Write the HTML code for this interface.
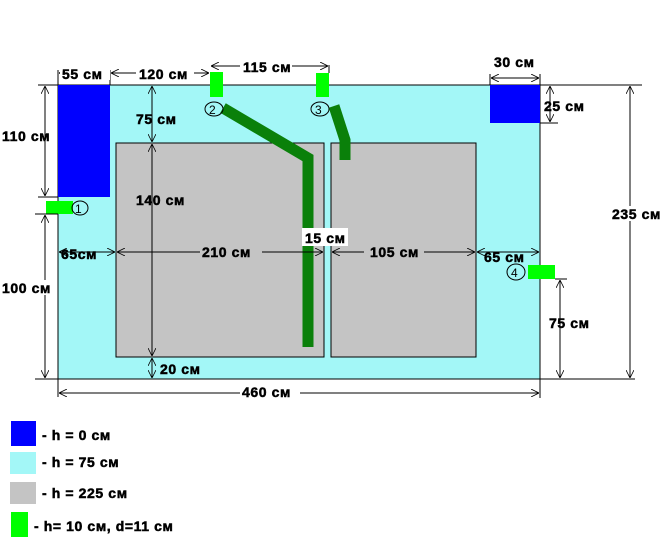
<!DOCTYPE html>
<html><head><meta charset="utf-8"><style>
html,body{margin:0;padding:0;background:#fff;width:672px;height:540px;overflow:hidden}
text{font-family:"Liberation Sans",Arial,sans-serif;font-weight:bold;font-size:14px;fill:#000;stroke:#000;stroke-width:0.5px;letter-spacing:0.6px}
</style></head><body>
<svg width="672" height="540" viewBox="0 0 672 540" xmlns="http://www.w3.org/2000/svg">
<defs>
<marker id="a" viewBox="0 0 10 10" refX="10" refY="5" markerWidth="8" markerHeight="8" orient="auto-start-reverse" markerUnits="userSpaceOnUse"><path d="M0,0 L10,5 L0,10" fill="none" stroke="#000" stroke-width="1"/></marker>
</defs>
<rect x="58" y="85" width="482" height="294" fill="#a3f7f7" stroke="#000" stroke-width="1"/>
<rect x="58" y="85" width="52" height="112" fill="#0000ff"/>
<rect x="490" y="85" width="50" height="38" fill="#0000ff"/>
<rect x="116" y="143" width="208" height="214" fill="#c4c4c4" stroke="#000"/>
<rect x="331" y="143" width="145" height="214" fill="#c4c4c4" stroke="#000"/>
<polyline points="223,108 308,158 308,347" fill="none" stroke="#0a800a" stroke-width="11"/>
<polyline points="334,106 345,140 345,160" fill="none" stroke="#0a800a" stroke-width="11"/>
<rect x="46" y="201" width="27" height="13" fill="#00ff00"/>
<rect x="210" y="72" width="13" height="25" fill="#00ff00"/>
<rect x="316" y="73" width="13" height="24" fill="#00ff00"/>
<rect x="528" y="265" width="27" height="14" fill="#00ff00"/>
<g fill="none" stroke="#000" stroke-width="1">
<ellipse cx="80" cy="208" rx="8" ry="7"/>
<ellipse cx="214" cy="109" rx="9" ry="7"/>
<ellipse cx="320" cy="109" rx="9" ry="7"/>
<ellipse cx="516" cy="272" rx="9" ry="8"/>
<line x1="38" y1="85" x2="58" y2="85"/>
<line x1="38" y1="197" x2="58" y2="197"/>
<line x1="35" y1="214" x2="58" y2="214"/>
<line x1="35" y1="379" x2="58" y2="379"/>
<line x1="58" y1="379" x2="58" y2="397"/>
<line x1="540" y1="379" x2="540" y2="398"/>
<line x1="540" y1="85" x2="642" y2="85"/>
<line x1="540" y1="379" x2="635" y2="379"/>
<line x1="540" y1="123" x2="558" y2="123"/>
<line x1="555" y1="279" x2="567" y2="279"/>
<line x1="540" y1="74" x2="540" y2="85"/>
<line x1="490" y1="74" x2="490" y2="85"/>
<line x1="329" y1="65" x2="329" y2="73"/>
<line x1="110" y1="70" x2="110" y2="85"/>
<line x1="58" y1="70" x2="58" y2="85"/>
</g>
<g stroke="#000" stroke-width="1" marker-start="url(#a)" marker-end="url(#a)">
<line x1="45" y1="86" x2="45" y2="196"/>
<line x1="45" y1="215" x2="45" y2="378"/>
<line x1="59" y1="393" x2="539" y2="393"/>
<line x1="59" y1="73" x2="109" y2="73"/>
<line x1="111" y1="73" x2="209" y2="73"/>
<line x1="211" y1="66" x2="328" y2="66"/>
<line x1="491" y1="78" x2="539" y2="78"/>
<line x1="550" y1="86" x2="550" y2="122"/>
<line x1="630" y1="86" x2="630" y2="378"/>
<line x1="560" y1="280" x2="560" y2="378"/>
<line x1="152" y1="86" x2="152" y2="142"/>
<line x1="152" y1="144" x2="152" y2="356"/>
<line x1="152" y1="358" x2="152" y2="378"/>
<line x1="59" y1="252" x2="115" y2="252"/>
<line x1="117" y1="252" x2="323" y2="252"/>
<line x1="332" y1="252" x2="475" y2="252"/>
<line x1="477" y1="252" x2="539" y2="252"/>
</g>
<rect x="60" y="66" width="50" height="14" fill="#fff"/>
<rect x="136" y="66" width="58" height="14" fill="#fff"/>
<rect x="240" y="60" width="52" height="14" fill="#fff"/>
<rect x="240" y="385" width="60" height="15" fill="#fff"/>
<rect x="0" y="129" width="44" height="15" fill="#fff"/>
<rect x="0" y="280" width="52" height="15" fill="#fff"/>
<rect x="610" y="206" width="60" height="15" fill="#fff"/>
<rect x="200" y="245" width="62" height="14" fill="#c4c4c4"/>
<rect x="364" y="245" width="60" height="14" fill="#c4c4c4"/>
<rect x="302" y="228" width="46" height="18" fill="#fff"/>
<text x="62" y="79">55 см</text>
<text x="139" y="79">120 см</text>
<text x="243" y="72">115 см</text>
<text x="494" y="67">30 см</text>
<text x="544" y="111">25 см</text>
<text x="612" y="219">235 см</text>
<text x="549" y="328">75 см</text>
<text x="2" y="141">110 см</text>
<text x="2" y="293">100 см</text>
<text x="136" y="124">75 см</text>
<text x="136" y="205">140 см</text>
<text x="160" y="374">20 см</text>
<text x="61" y="259">65см</text>
<text x="202" y="257">210 см</text>
<text x="305" y="243">15 см</text>
<text x="370" y="257">105 см</text>
<text x="484" y="262">65 см</text>
<text x="242" y="397">460 см</text>
<text x="75" y="213" style="font-weight:normal;font-size:12px;stroke-width:0">1</text>
<text x="209" y="114" style="font-weight:normal;font-size:12px;stroke-width:0">2</text>
<text x="315" y="114" style="font-weight:normal;font-size:12px;stroke-width:0">3</text>
<text x="511" y="277" style="font-weight:normal;font-size:12px;stroke-width:0">4</text>
<rect x="11" y="421" width="25" height="25" fill="#0000ff"/>
<rect x="10" y="452" width="26" height="22" fill="#a3f7f7"/>
<rect x="10" y="482" width="26" height="22" fill="#c4c4c4"/>
<rect x="11" y="512" width="17" height="25" fill="#00ff00"/>
<text x="42" y="440">- h = 0 см</text>
<text x="42" y="467">- h = 75 см</text>
<text x="42" y="498">- h = 225 см</text>
<text x="34" y="531">- h= 10 см, d=11 см</text>
</svg>
</body></html>
